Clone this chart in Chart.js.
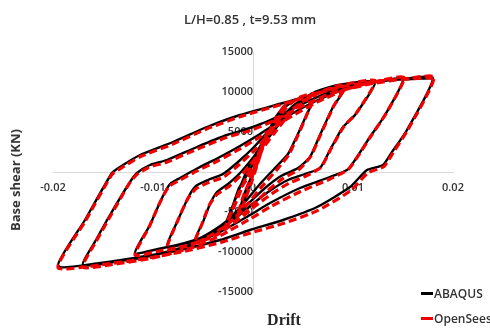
<!DOCTYPE html>
<html>
<head>
<meta charset="utf-8">
<script src="https://cdn.jsdelivr.net/npm/chart.js@4.4.1/dist/chart.umd.min.js"></script>
<style>
    body { margin: 0; background: #fff; }
    #wrap { position: relative; width: 490px; height: 329px; overflow: hidden; }
    #chart { position: absolute; left: 0; top: 0; }
    .txt { position: absolute; font-family: 'Open Sans', sans-serif; color: #333; white-space: nowrap; }
    #title { left: 5px; width: 490px; top: 10px; text-align: center; font-size: 13px; font-weight: 600; }
    #ytitle { left: 15px; top: 180px; font-size: 13px; font-weight: 700; transform: translate(-50%, -50%) rotate(-90deg); }
    #xtitle { left: 284px; top: 320px; transform: translate(-50%, -50%); font-family: 'Liberation Serif', serif; font-size: 16px; font-weight: 700; color: #262626; }
    .leg { left: 421px; font-size: 12px; font-weight: 600; display: flex; align-items: center; }
    .leg i { display: inline-block; width: 12px; margin-right: 1px; }
</style>
</head>
<body>
<div id="wrap">
    <canvas id="chart" width="490" height="329"></canvas>
    <div class="txt" id="title">L/H=0.85 , t=9.53 mm</div>
    <div class="txt" id="ytitle">Base shear (KN)</div>
    <div class="txt" id="xtitle">Drift</div>
    <div class="txt leg" style="top:285px"><i style="border-top:3px solid #000"></i>ABAQUS</div>
    <div class="txt leg" style="top:310px"><i style="border-top:3px dashed #f00000"></i>OpenSees</div>
</div>
<script>
// =========================
// DATA  [drift, base shear (kN)]
// =========================
const abaqus0 = [[0,0],[0.0006,2500],[0.0012,4500],[0.0005,1500],[-0.0003,-1500],[-0.001,-4000],[-0.0015,-5500],[-0.0008,-2500],[0.0002,500],[0.0012,4000],[0.0022,6750]];
const abaqus1 = [[0.0032,8375],[0.0017,5250],[0.0002,2125],[-0.0008,-375],[-0.0018,-3500],[-0.0028,-6625],[-0.0021,-4500],[-0.0014,-2000],[-0.0004,0],[0.0007,2750],[0.002,5750],[0.0032,8125],[0.0045,9125]];
const abaqus2 = [[0.0062,9625],[0.0053,7000],[0.0044,4500],[0.0035,2250],[0.0022,500],[0.0007,-1500],[-0.0008,-3750],[-0.0025,-6000],[-0.0042,-7500],[-0.0058,-8500],[-0.005,-6250],[-0.0043,-4000],[-0.0036,-2500],[-0.0025,-1500],[-0.0012,0],[0.0003,2250],[0.002,5000],[0.0038,7750],[0.0058,9500],[0.0075,10250]];
const abaqus3 = [[0.0092,10500],[0.008,8125],[0.0067,4625],[0.0057,1875],[0.0045,500],[0.0028,-500],[0.0012,-2000],[-0.0003,-3750],[-0.002,-5750],[-0.004,-7625],[-0.0062,-8750],[-0.0086,-9375],[-0.0075,-6000],[-0.0064,-3000],[-0.0057,-1750],[-0.0045,-1000],[-0.003,-250],[-0.0015,1250],[0.0002,3250],[0.002,5750],[0.004,8250],[0.006,9875],[0.0085,10875]];
const abaqus4 = [[0.0122,11250],[0.0102,7125],[0.009,5625],[0.0077,2750],[0.0067,500],[0.0052,-250],[0.0035,-1000],[0.0018,-2250],[0.0002,-3750],[-0.0015,-5500],[-0.0038,-7500],[-0.0068,-8875],[-0.0095,-9625],[-0.0118,-10125],[-0.0103,-6625],[-0.0092,-3500],[-0.0083,-1500],[-0.0073,-750],[-0.0055,500],[-0.0035,1750],[-0.0013,3250],[0.0007,4750],[0.0035,7000],[0.0065,9000],[0.0095,10500],[0.0122,11250]];
const abaqus5 = [[0.015,11625],[0.0132,7125],[0.0117,4375],[0.0102,1500],[0.0094,250],[0.0074,-750],[0.0047,-2000],[0.0017,-3875],[-0.0003,-5375],[-0.0033,-7500],[-0.0063,-9125],[-0.0103,-10500],[-0.0133,-11125],[-0.017,-11625],[-0.0157,-8500],[-0.0143,-5375],[-0.0123,-1250],[-0.0116,-125],[-0.0103,875],[-0.0086,1500],[-0.0056,3125],[-0.0026,4625],[0,5625],[0.0024,6875],[0.0047,8375],[0.0077,10000],[0.0117,11125],[0.015,11625]];
const abaqus6 = [[0.018,11750],[0.0154,5250],[0.0139,2500],[0.013,875],[0.0114,250],[0.0097,-1875],[0.0064,-4375],[0.003,-6000],[-0.0003,-7250],[-0.0033,-8500],[-0.0073,-9750],[-0.0113,-10625],[-0.0153,-11375],[-0.0195,-11750],[-0.0168,-6000],[-0.0141,-125],[-0.0133,625],[-0.0113,2125],[-0.008,3750],[-0.0046,5625],[-0.0013,7125],[0.003,8625],[0.0087,10625],[0.0127,11375],[0.018,11750]];

const opensees0 = [[0,0],[0.0006,2300],[0.0013,4600],[0.0005,1200],[-0.0003,-1800],[-0.001,-4200],[-0.0016,-5700],[-0.0009,-2800],[0.0002,300],[0.0012,3800],[0.0022,6500]];
const opensees1 = [[0.0033,8500],[0.0018,5000],[0.0003,1800],[-0.0007,-700],[-0.0017,-3800],[-0.0028,-6900],[-0.0021,-4800],[-0.0013,-2200],[-0.0003,-300],[0.0008,2500],[0.002,5500],[0.0033,8000],[0.0046,9300]];
const opensees2 = [[0.0062,9800],[0.0054,7200],[0.0045,4600],[0.0036,2200],[0.0024,300],[0.0009,-1800],[-0.0006,-4100],[-0.0024,-6400],[-0.0042,-7900],[-0.0058,-8800],[-0.0051,-6500],[-0.0044,-4200],[-0.0036,-2800],[-0.0024,-1800],[-0.0011,-300],[0.0004,2000],[0.0021,4800],[0.0039,7600],[0.0058,9400],[0.0075,10300]];
const opensees3 = [[0.0092,10700],[0.0081,8300],[0.0068,4800],[0.0058,2000],[0.0046,300],[0.003,-800],[0.0014,-2400],[-0.0001,-4200],[-0.0018,-6200],[-0.0039,-8000],[-0.0062,-9100],[-0.0086,-9700],[-0.0076,-6300],[-0.0065,-3300],[-0.0057,-2100],[-0.0044,-1300],[-0.0029,-600],[-0.0014,900],[0.0003,2900],[0.0021,5500],[0.0041,8000],[0.0061,9700],[0.0086,10800]];
const opensees4 = [[0.0122,11400],[0.0103,7300],[0.0091,5700],[0.0078,2900],[0.0068,600],[0.0053,-500],[0.0036,-1400],[0.0019,-2700],[0.0003,-4200],[-0.0014,-5900],[-0.0037,-7900],[-0.0067,-9200],[-0.0095,-9900],[-0.0118,-10400],[-0.0104,-6900],[-0.0093,-3800],[-0.0084,-1800],[-0.0073,-1000],[-0.0055,200],[-0.0035,1400],[-0.0013,2900],[0.0007,4400],[0.0035,6700],[0.0065,8800],[0.0095,10400],[0.0122,11300]];
const opensees5 = [[0.0151,11800],[0.0133,7300],[0.0118,4500],[0.0103,1600],[0.0095,300],[0.0075,-1000],[0.0048,-2400],[0.0018,-4300],[-0.0002,-5800],[-0.0032,-7900],[-0.0062,-9500],[-0.0102,-10800],[-0.0132,-11400],[-0.017,-11900],[-0.0157,-8700],[-0.0143,-5600],[-0.0124,-1500],[-0.0117,-400],[-0.0104,600],[-0.0087,1200],[-0.0057,2800],[-0.0027,4300],[0,5300],[0.0024,6600],[0.0047,8100],[0.0077,9800],[0.0117,11000],[0.015,11600]];
const opensees6 = [[0.0181,11850],[0.0155,5300],[0.014,2400],[0.0131,700],[0.0115,-100],[0.0098,-2300],[0.0065,-4800],[0.0031,-6400],[-0.0002,-7600],[-0.0032,-8800],[-0.0072,-10000],[-0.0112,-10900],[-0.0152,-11600],[-0.0195,-11950],[-0.0168,-6200],[-0.0141,-300],[-0.0133,400],[-0.0113,1900],[-0.008,3500],[-0.0046,5400],[-0.0013,6900],[0.003,8500],[0.0087,10600],[0.0127,11400],[0.018,11800]];

const xTicks = [-0.02, -0.01, 0, 0.01, 0.02];
const yTicks = [-15000, -10000, -5000, 0, 5000, 10000, 15000];

const abaqusPath = [abaqus0, abaqus1, abaqus2, abaqus3, abaqus4, abaqus5, abaqus6].flat();
const openseesPath = [opensees0, opensees1, opensees2, opensees3, opensees4, opensees5, opensees6].flat();

const toPoints = arr => arr.map(p => ({ x: p[0], y: p[1] }));

const tickFont = { family: "'Open Sans', sans-serif", size: 11, weight: '600' };

new Chart(document.getElementById('chart'), {
    type: 'scatter',
    data: {
        datasets: [
            {
                label: 'ABAQUS',
                data: toPoints(abaqusPath),
                showLine: true,
                borderColor: '#000',
                borderWidth: 2.4,
                tension: 0.2,
                pointRadius: 0,
                order: 1
            },
            {
                label: 'OpenSees',
                data: toPoints(openseesPath),
                showLine: true,
                borderColor: '#f00000',
                borderWidth: 3.2,
                borderDash: [8, 4],
                tension: 0.2,
                pointRadius: 0,
                order: 0
            }
        ]
    },
    options: {
        responsive: false,
        animation: false,
        layout: { padding: { left: 53, right: 37, top: 52, bottom: 37 } },
        plugins: { legend: { display: false }, tooltip: { enabled: false } },
        scales: {
            x: {
                type: 'linear',
                position: { y: 0 },
                min: xTicks[0],
                max: xTicks[xTicks.length - 1],
                grid: { display: false, drawTicks: false },
                border: { color: '#d9d9d9', width: 1 },
                afterBuildTicks: s => { s.ticks = xTicks.map(v => ({ value: v })); },
                ticks: {
                    autoSkip: false,
                    padding: 9,
                    color: '#333',
                    font: tickFont,
                    callback: v => String(Number(v.toFixed(2)))
                }
            },
            y: {
                type: 'linear',
                position: { x: 0 },
                min: yTicks[0],
                max: yTicks[yTicks.length - 1],
                grid: { display: false, drawTicks: false },
                border: { color: '#d9d9d9', width: 1 },
                afterBuildTicks: s => { s.ticks = yTicks.map(v => ({ value: v })); },
                ticks: {
                    autoSkip: false,
                    padding: 12,
                    color: '#333',
                    font: tickFont,
                    callback: v => String(v)
                }
            }
        }
    }
});
</script>
</body>
</html>
